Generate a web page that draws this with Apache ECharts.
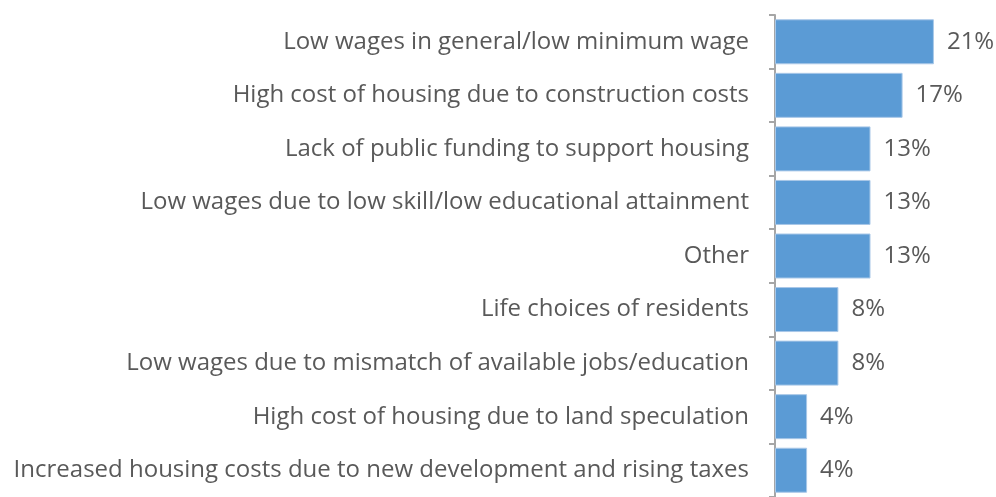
<!DOCTYPE html>
<html>
<head>
<meta charset="utf-8">
<script src="https://cdn.jsdelivr.net/npm/echarts@6/dist/echarts.min.js"></script>
<style>
  html, body { margin: 0; padding: 0; background: #fff; }
  #chart { width: 996px; height: 497px; }
</style>
</head>
<body>
<div id="chart"></div>
<script>
// categories top to bottom
var categories = [
  "Low wages in general/low minimum wage",
  "High cost of housing due to construction costs",
  "Lack of public funding to support housing",
  "Low wages due to low skill/low educational attainment",
  "Other",
  "Life choices of residents",
  "Low wages due to mismatch of available jobs/education",
  "High cost of housing due to land speculation",
  "Increased housing costs due to new development and rising taxes"
];
// share of responses, %
var shares = [20.8, 16.7, 12.5, 12.5, 12.5, 8.3, 8.3, 4.2, 4.2];

var myChart = echarts.init(document.getElementById("chart"));

var option = {
  animation: false,
  grid: {
    left: 775,
    right: 30,
    top: 15,
    height: 487
  },
  xAxis: {
    type: "value",
    min: 0,
    max: 25,
    show: false
  },
  yAxis: {
    type: "category",
    inverse: true,
    data: categories,
    axisLine: { lineStyle: { color: "#a6a6a6", width: 2 } },
    axisTick: { show: true, length: 6, lineStyle: { color: "#a6a6a6", width: 2 } },
    axisLabel: {
      margin: 26,
      fontFamily: "Open Sans",
      fontSize: 24,
      color: "#595959"
    }
  },
  series: [
    {
      type: "bar",
      data: shares,
      barWidth: 45,
      itemStyle: {
        color: "#5b9bd5",
        borderColor: "#a9c8e8",
        borderWidth: 1
      },
      label: {
        show: true,
        position: "right",
        distance: 13,
        fontFamily: "Open Sans",
        fontSize: 24,
        color: "#595959",
        formatter: function (p) {
          return Math.round(p.value) + "%";
        }
      }
    }
  ]
};

myChart.setOption(option);
</script>
</body>
</html>
